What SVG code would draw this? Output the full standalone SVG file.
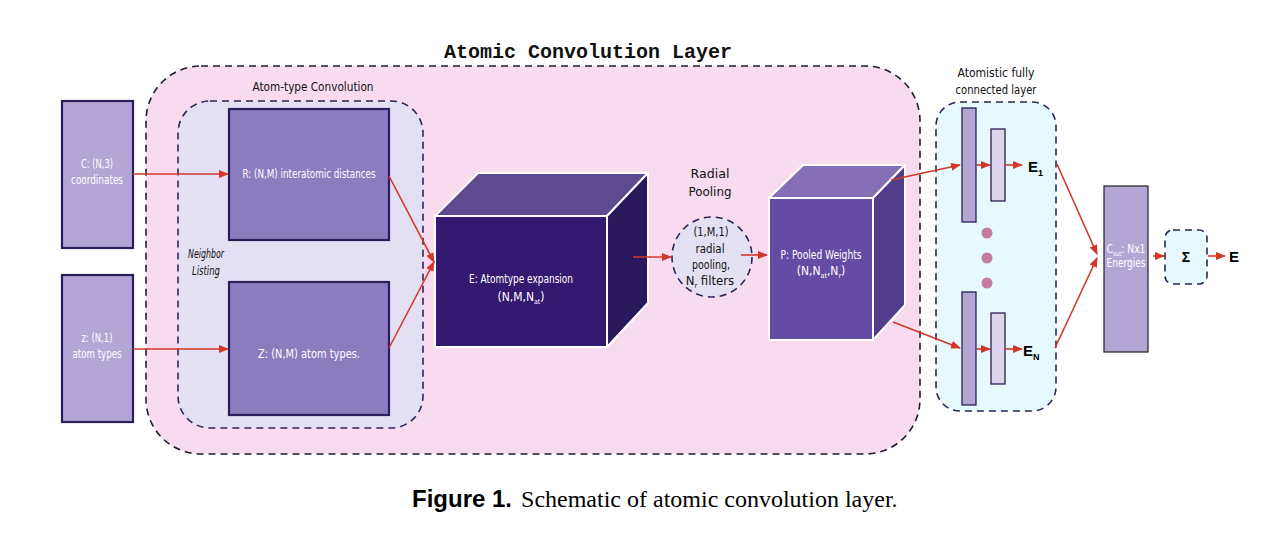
<svg xmlns="http://www.w3.org/2000/svg" width="1282" height="535" viewBox="0 0 1282 535">
<defs>
<marker id="ah" markerWidth="10" markerHeight="8" refX="9" refY="4" orient="auto" markerUnits="userSpaceOnUse">
<path d="M0,0 L10,4 L0,8 Z" fill="#d2382a"/>
</marker>
<style>
.cont{stroke:#1e1e2e;stroke-width:1.6;stroke-dasharray:7,5}
.cont2{stroke:#2d2558;stroke-width:1.6;stroke-dasharray:7,5}
.box{stroke:#2b1d5a;stroke-width:2.2}
.wt{fill:#ffffff;font-family:"DejaVu Sans Condensed","Liberation Sans Narrow","Roboto",sans-serif;font-size:12px;text-anchor:middle}
.bt{fill:#111111;font-family:"DejaVu Sans Condensed","Liberation Sans Narrow","Roboto",sans-serif;font-size:13px;text-anchor:middle}
.cn{stroke:#d2382a;stroke-width:1.6;fill:none;marker-end:url(#ah)}
.cube{stroke:#ffffff;stroke-width:2;stroke-linejoin:round}
.sub{font-size:7px}
.lab{fill:#000;font-family:"Liberation Sans",Arial,sans-serif;font-weight:bold;text-anchor:start}
</style>
</defs>
<rect width="1282" height="535" fill="#ffffff"/>

<g id="atomic-convolution-layer">
<rect x="146" y="66" width="774" height="388" rx="55" ry="55" fill="#f9dbef" class="cont"/>
<text x="588" y="58" font-family="'Liberation Mono','Courier New',monospace" font-size="20" font-weight="bold" text-anchor="middle" fill="#111">Atomic Convolution Layer</text>
</g>

<g id="atom-type-convolution">
<rect x="178" y="101" width="245" height="327" rx="32" ry="32" fill="#e4e0f3" class="cont2"/>
<text x="313" y="91" class="bt" textLength="121" lengthAdjust="spacingAndGlyphs">Atom-type Convolution</text>
<text x="206" y="258" class="bt" font-style="italic" font-size="12" textLength="36" lengthAdjust="spacingAndGlyphs">Neighbor</text>
<text x="206" y="275" class="bt" font-style="italic" font-size="12" textLength="28" lengthAdjust="spacingAndGlyphs">Listing</text>
</g>

<g id="node-c">
<rect x="62" y="101" width="71" height="147" fill="#b3a6d5" class="box"/>
<text x="97" y="168" class="wt" textLength="32" lengthAdjust="spacingAndGlyphs">C: (N,3)</text>
<text x="97" y="184" class="wt" textLength="52" lengthAdjust="spacingAndGlyphs">coordinates</text>
</g>

<g id="node-z">
<rect x="62" y="275" width="71" height="147" fill="#b3a6d5" class="box"/>
<text x="97" y="342" class="wt" textLength="31" lengthAdjust="spacingAndGlyphs">z: (N,1)</text>
<text x="97" y="358" class="wt" textLength="49" lengthAdjust="spacingAndGlyphs">atom types</text>
</g>

<g id="node-r">
<rect x="229" y="109" width="160" height="131" fill="#8b7bbf" class="box"/>
<text x="309" y="178" class="wt" textLength="133" lengthAdjust="spacingAndGlyphs">R: (N,M) interatomic distances</text>
</g>

<g id="node-zm">
<rect x="229" y="282" width="160" height="133" fill="#8b7bbf" class="box"/>
<text x="309" y="358" class="wt" font-size="14" textLength="102" lengthAdjust="spacingAndGlyphs">Z: (N,M) atom types.</text>
</g>

<g id="node-e">
<polygon points="435,216 478,173 648,173 607,216" fill="#5e4a90" class="cube"/>
<polygon points="607,216 648,173 648,303 607,347" fill="#2a185c" class="cube"/>
<rect x="435" y="216" width="172" height="131" fill="#33196f" class="cube"/>
<text x="521" y="283" class="wt" textLength="104" lengthAdjust="spacingAndGlyphs">E: Atomtype expansion</text>
<text x="521" y="301" class="wt" font-size="11">(N,M,N<tspan class="sub" dy="3">at</tspan><tspan dy="-3">)</tspan></text>
</g>

<g id="node-radial-pooling">
<text x="710" y="178" class="bt" font-size="14" textLength="39" lengthAdjust="spacingAndGlyphs">Radial</text>
<text x="710" y="196" class="bt" font-size="14" textLength="43" lengthAdjust="spacingAndGlyphs">Pooling</text>
<circle cx="712" cy="257" r="40" fill="#e4e0f3" class="cont2"/>
<text x="711" y="236" class="bt" font-size="11" fill="#333" textLength="35" lengthAdjust="spacingAndGlyphs">(1,M,1)</text>
<text x="710" y="253" class="bt" font-size="11" fill="#333" textLength="29" lengthAdjust="spacingAndGlyphs">radial</text>
<text x="711" y="269" class="bt" font-size="11" fill="#333" textLength="38" lengthAdjust="spacingAndGlyphs">pooling,</text>
<text x="710" y="285" class="bt" font-size="10.5" fill="#333">N<tspan class="sub" dy="3">r</tspan><tspan dy="-3"> filters</tspan></text>
</g>

<g id="node-p">
<polygon points="769,198 803,165 905,165 873,198" fill="#8570b8" class="cube"/>
<polygon points="873,198 905,165 905,305 873,340" fill="#523d8a" class="cube"/>
<rect x="769" y="198" width="104" height="142" fill="#644ba3" class="cube"/>
<text x="821" y="259" class="wt" textLength="81" lengthAdjust="spacingAndGlyphs">P: Pooled Weights</text>
<text x="821" y="275" class="wt" font-size="11">(N,N<tspan class="sub" dy="3">at</tspan><tspan dy="-3">,N</tspan><tspan class="sub" dy="3">r</tspan><tspan dy="-3">)</tspan></text>
</g>

<g id="atomistic-fc-layer">
<rect x="936" y="102" width="120" height="309" rx="24" ry="24" fill="#e6f9fd" class="cont2"/>
<text x="996" y="77" class="bt" textLength="77" lengthAdjust="spacingAndGlyphs">Atomistic fully</text>
<text x="996" y="94" class="bt" textLength="81" lengthAdjust="spacingAndGlyphs">connected layer</text>
<rect x="962" y="108" width="14" height="114" fill="#b3a6d5" stroke="#2b1d5a" stroke-width="1.3"/>
<rect x="991" y="129" width="14" height="72" fill="#dcd5ec" stroke="#2b1d5a" stroke-width="1.3"/>
<rect x="962" y="292" width="14" height="113" fill="#b3a6d5" stroke="#2b1d5a" stroke-width="1.3"/>
<rect x="991" y="313" width="14" height="71" fill="#dcd5ec" stroke="#2b1d5a" stroke-width="1.3"/>
<circle cx="987" cy="233" r="5.5" fill="#c47ba1"/>
<circle cx="987" cy="258" r="5.5" fill="#c47ba1"/>
<circle cx="987" cy="283" r="5.5" fill="#c47ba1"/>
<text x="1028" y="172" class="lab" font-size="15">E<tspan font-size="9" dy="4">1</tspan></text>
<text x="1023" y="356" class="lab" font-size="15">E<tspan font-size="9" dy="4">N</tspan></text>
</g>

<g id="node-cout">
<rect x="1104" y="186" width="44" height="166" fill="#b3a6d5" stroke="#222" stroke-width="1.2"/>
<text x="1126" y="253" class="wt" font-size="11" textLength="39" lengthAdjust="spacingAndGlyphs">C<tspan font-size="6.5" dy="3">out</tspan><tspan dy="-3">: Nx1</tspan></text>
<text x="1126" y="267" class="wt" font-size="11.5" textLength="39" lengthAdjust="spacingAndGlyphs">Energies</text>
</g>

<g id="node-sigma">
<rect x="1165" y="230" width="42" height="54" rx="8" ry="8" fill="#e6f9fd" class="cont2"/>
<text x="1186" y="262" class="lab" font-size="14" fill="#2b3a3a" style="text-anchor:middle">Σ</text>
</g>

<g id="node-e-out">
<text x="1229" y="262" class="lab" font-size="15">E</text>
</g>

<g id="connectors">
<line x1="133" y1="174" x2="228" y2="174" class="cn"/>
<line x1="133" y1="349" x2="228" y2="349" class="cn"/>
<line x1="389" y1="176" x2="434" y2="262" class="cn"/>
<line x1="389" y1="348" x2="434" y2="262" class="cn"/>
<line x1="633" y1="257" x2="671" y2="257" class="cn"/>
<line x1="741" y1="255" x2="767" y2="255" class="cn"/>
<line x1="891" y1="180" x2="960" y2="165" class="cn"/>
<line x1="893" y1="322" x2="960" y2="348" class="cn"/>
<line x1="976" y1="165" x2="990" y2="165" class="cn"/>
<line x1="1005" y1="165" x2="1022" y2="165" class="cn"/>
<line x1="976" y1="349" x2="990" y2="349" class="cn"/>
<line x1="1005" y1="349" x2="1022" y2="349" class="cn"/>
<line x1="1057" y1="164" x2="1097" y2="254" class="cn"/>
<line x1="1055" y1="348" x2="1097" y2="258" class="cn"/>
<line x1="1153" y1="256" x2="1164" y2="256" class="cn"/>
<line x1="1208" y1="256" x2="1225" y2="256" class="cn"/>
</g>

<g id="caption">
<text x="412" y="507" font-size="24"><tspan font-family="'Liberation Sans',Arial,sans-serif" font-weight="bold">Figure 1.</tspan><tspan font-family="'Liberation Serif','Times New Roman',serif" dx="9">Schematic of atomic convolution layer.</tspan></text>
</g>
</svg>
